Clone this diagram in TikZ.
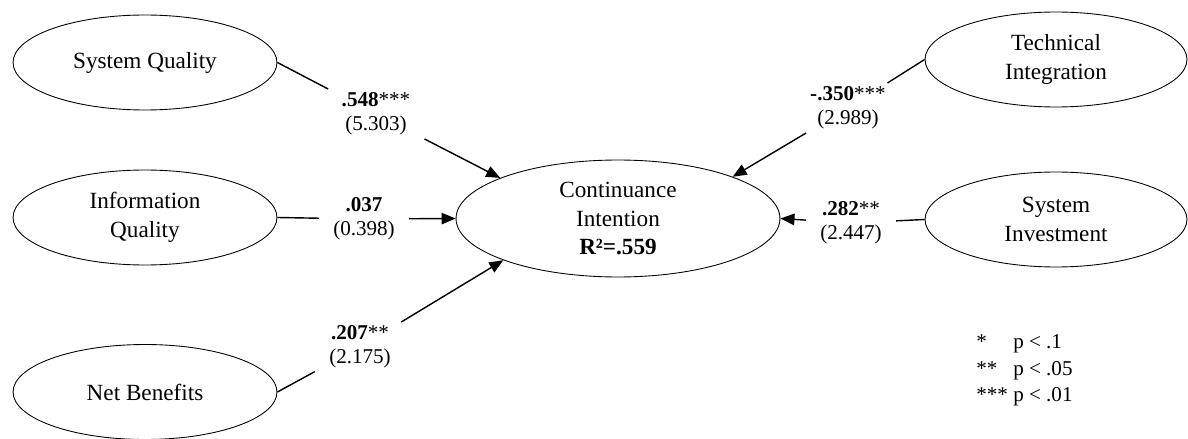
\documentclass[tikz,border=0pt]{standalone}
\usepackage{fontspec}
\setmainfont{Liberation Serif}
\usetikzlibrary{arrows, arrows.meta}
\usetikzlibrary{shapes.geometric}

\begin{document}
\begin{tikzpicture}[x=0.02cm, y=-0.02cm,
    factor/.style={ellipse, draw, line width=0.5pt, inner sep=0pt, minimum width=5.28cm, minimum height=1.9cm, align=center, font=\fontsize{13.2}{16.2}\selectfont},
    coef/.style={inner xsep=8pt, inner ysep=2pt, align=center, font=\fontsize{12}{13.5}\selectfont},
    effect/.style={line width=0.8pt, -{Triangle[length=8pt,width=6.5pt]}}]
      \useasboundingbox (0,0) rectangle (1188,439);

      % constructs
      \node[factor] (sq) at (145,62.5) {System Quality};
      \node[factor] (iq) at (145,217.5) {Information\\Quality};
      \node[factor] (nb) at (145,392) {Net Benefits};
      \node[factor, minimum width=6.48cm, minimum height=2.34cm] (ci) at (618,218.5) {Continuance\\Intention\\\textbf{R²=.559}};
      \node[factor, minimum width=5.24cm] (ti) at (1056,59.5) {Technical\\Integration};
      \node[factor, minimum width=5.24cm] (si) at (1056,219.5) {System\\Investment};

      % path coefficients (t-values)
      \node[coef] (l1) at (376,114) {\textbf{.548}***\\(5.303)};
      \node[coef] (l2) at (364,219) {\textbf{.037}\\(0.398)};
      \node[coef] (l3) at (360,347) {\textbf{.207}**\\(2.175)};
      \node[coef] (l4) at (848,108) {\textbf{-.350}***\\(2.989)};
      \node[coef] (l5) at (851,223) {\textbf{.282}**\\(2.447)};

      \draw[effect] (sq.east) -- (l1) -- (ci.161);
      \draw[effect] (iq.east) -- (l2) -- (ci.west);
      \draw[effect] (nb.east) -- (l3) -- (ci.200);
      \draw[effect] (ti.west) -- (l4) -- (ci.20);
      \draw[effect] (si.west) -- (l5) -- (ci.east);

      \node[anchor=west, inner sep=0pt, font=\fontsize{12}{15}\selectfont] (key) at (976,370) {%
        \begin{tabular}{@{}l@{\hspace{3pt}}l@{}}
          {*} & p < .1\\
          {**} & p < .05\\
          {***} & p < .01
        \end{tabular}};
\end{tikzpicture}
\end{document}
